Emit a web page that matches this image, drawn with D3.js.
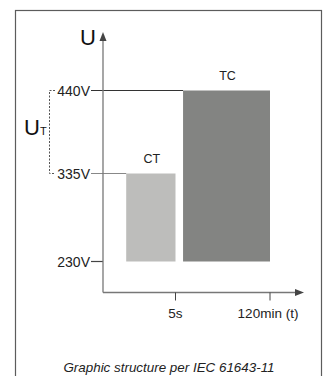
<!DOCTYPE html>
<html>
<head>
<meta charset="utf-8">
<script src="https://cdn.jsdelivr.net/npm/d3@7"></script>
<style>
  body { margin: 0; background: #fff; }
  svg { display: block; font-family: "Liberation Sans", Arial, sans-serif; }
</style>
</head>
<body>
<div id="chart"></div>
<script>
// voltage levels on the U axis
const levels = [230, 335, 440];
const levelLabels = ["230V", "335V", "440V"];
// time marks on the t axis (position index in the time scale)
const timeTicks = [1, 2];
const timeLabels = ["5s", "120min (t)"];
// bars: test class, start/end on time scale, top voltage
const barNames = ["CT", "TC"];
const barStart = [0.32, 1.08];
const barEnd = [1, 2];
const barTop = [335, 440];
const barColors = ["#bdbdbb", "#838482"];

const width = 323;
const height = 376;

const svg = d3.select('#chart')
    .append('svg')
    .attr('width', width)
    .attr('height', height);

// frame
svg.append('rect')
    .attr('x', 15.5).attr('y', 10.5)
    .attr('width', 306).attr('height', 380)
    .attr('fill', 'none')
    .attr('stroke', '#5c5c5c')
    .attr('stroke-width', 1.2);

const y = d3.scaleLinear()
    .domain(levels)
    .range([261.5, 173.5, 90.5]);

const x = d3.scaleLinear()
    .domain([0, 1, 2])
    .range([103, 175.5, 270]);

const x0 = x(0);
const yAxisY = 292.5;

// bars
const bars = barNames.map((n, i) => ({name: n, s: barStart[i], e: barEnd[i], top: barTop[i], c: barColors[i]}));

svg.append('g')
    .selectAll('rect')
    .data(bars)
    .join('rect')
        .attr('x', d => x(d.s))
        .attr('y', d => y(d.top))
        .attr('width', d => x(d.e) - x(d.s))
        .attr('height', d => y(levels[0]) - y(d.top))
        .attr('fill', d => d.c);

svg.append('g')
    .selectAll('text')
    .data(bars)
    .join('text')
        .attr('x', d => (x(d.s) + x(d.e)) / 2 + 1)
        .attr('y', d => y(d.top) - 11)
        .attr('text-anchor', 'middle')
        .attr('font-size', 12.5)
        .attr('fill', '#222')
        .text(d => d.name);

// level reference lines
const lineEnds = [x0, x(barStart[0]), x(barStart[1])];
const lineColors = ['#444', '#888', '#333'];
svg.append('g')
    .selectAll('line')
    .data(levels)
    .join('line')
        .attr('x1', 91)
        .attr('x2', (d, i) => lineEnds[i])
        .attr('y1', d => y(d))
        .attr('y2', d => y(d))
        .attr('stroke', (d, i) => lineColors[i])
        .attr('stroke-width', 1.2);

svg.append('g')
    .selectAll('text')
    .data(levels)
    .join('text')
        .attr('x', 90)
        .attr('y', d => y(d) + 5)
        .attr('text-anchor', 'end')
        .attr('font-size', 14)
        .attr('fill', '#222')
        .text((d, i) => levelLabels[i]);

// axes
svg.append('line')
    .attr('x1', x0).attr('x2', x0)
    .attr('y1', yAxisY).attr('y2', 38)
    .attr('stroke', '#777').attr('stroke-width', 1.3);
svg.append('path')
    .attr('d', `M${x0},32 L${x0 - 3.5},41 L${x0 + 3.5},41 Z`)
    .attr('fill', '#444');

svg.append('line')
    .attr('x1', x0).attr('x2', 297)
    .attr('y1', yAxisY).attr('y2', yAxisY)
    .attr('stroke', '#777').attr('stroke-width', 1.3);
svg.append('path')
    .attr('d', `M304,${yAxisY} L295,${yAxisY - 3.5} L295,${yAxisY + 3.5} Z`)
    .attr('fill', '#444');

svg.append('g')
    .selectAll('line')
    .data(timeTicks)
    .join('line')
        .attr('x1', d => x(d)).attr('x2', d => x(d))
        .attr('y1', yAxisY).attr('y2', yAxisY + 8)
        .attr('stroke', '#444');

svg.append('g')
    .selectAll('text')
    .data(timeTicks)
    .join('text')
        .attr('x', (d, i) => i === 0 ? x(d) : x(d) - 2)
        .attr('y', 318)
        .attr('text-anchor', 'middle')
        .attr('font-size', 13.5)
        .attr('fill', '#222')
        .text((d, i) => timeLabels[i]);

// axis name U
svg.append('text')
    .attr('x', 80).attr('y', 45)
    .attr('font-size', 22)
    .attr('fill', '#111')
    .text('U');

// UT bracket
svg.append('path')
    .attr('d', `M55,${y(440)} L49.5,${y(440)} L49.5,${y(335)} L55,${y(335)}`)
    .attr('fill', 'none')
    .attr('stroke', '#555')
    .attr('stroke-dasharray', '2,1.5');

const ut = svg.append('text')
    .attr('x', 24).attr('y', 135)
    .attr('font-size', 22)
    .attr('fill', '#111');
ut.append('tspan').text('U');
ut.append('tspan').attr('font-size', 11).text('T');

// caption
svg.append('text')
    .attr('x', 169).attr('y', 372)
    .attr('text-anchor', 'middle')
    .attr('font-size', 13.4)
    .attr('font-style', 'italic')
    .attr('fill', '#222')
    .text('Graphic structure per IEC 61643-11');
</script>
</body>
</html>
